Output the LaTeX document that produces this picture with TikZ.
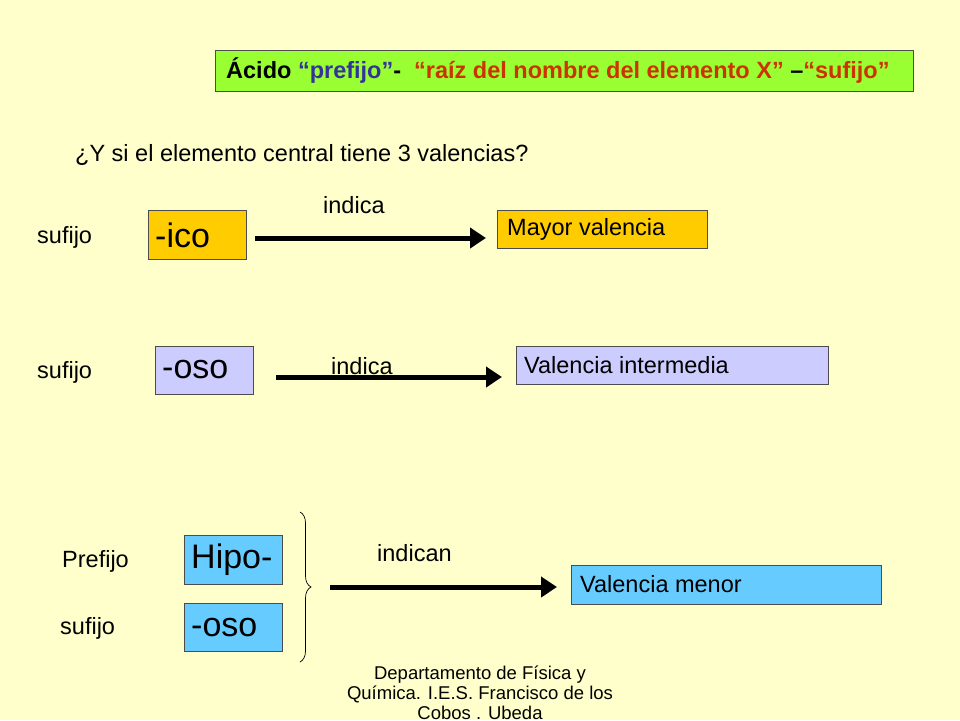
\documentclass[tikz,border=0pt]{standalone}
\usepackage{fontspec}
\setmainfont{Liberation Sans}
\usetikzlibrary{arrows.meta,decorations.pathreplacing}
\definecolor{bg}{RGB}{255,255,204}
\definecolor{tgreen}{RGB}{153,255,51}
\definecolor{orng}{RGB}{255,204,0}
\definecolor{lav}{RGB}{204,204,255}
\definecolor{lblue}{RGB}{102,204,255}
\definecolor{tblue}{RGB}{51,51,153}
\definecolor{tred}{RGB}{204,51,0}
\tikzset{
 box/.style={draw=black!70,line width=0.8pt,anchor=north west,inner sep=0pt,text depth=0pt},
 lbl/.style={font=\fontsize{23.5}{26}\selectfont,anchor=west,inner sep=0pt},
 bigl/.style={font=\fontsize{34}{36}\selectfont},
 arr/.style={line width=5pt,-{Triangle[length=16pt,width=20pt]}}
}
\begin{document}
\begin{tikzpicture}[x=1pt,y=-1pt]
\fill[bg] (0,0) rectangle (960,720);
\useasboundingbox (0,0) rectangle (960,720);
\node[box,fill=tgreen,minimum width=698pt,minimum height=41pt] (title) at (215,50) {};
\node[lbl,font=\fontsize{23.5}{26}\selectfont\bfseries] (tt) at (226,71) {Ácido \textcolor{tblue}{“prefijo”}- \ \textcolor{tred}{“raíz del nombre del elemento X”} –\textcolor{tred}{“sufijo”}};
\node[lbl] (q) at (75,155) {¿Y si el elemento central tiene 3 valencias?};
% row 1
\node[box,fill=orng,minimum width=98pt,minimum height=49pt] (ico) at (148,210) {};
\node[lbl,bigl] (icot) at (155,235) {-ico};
\node[box,fill=orng,minimum width=210pt,minimum height=38pt] (mayor) at (497,210) {};
\node[lbl] (mayort) at (507,229) {Mayor valencia};
\node[lbl] (s1) at (37,237) {sufijo};
\node[lbl] (ind1) at (323,205) {indica};
\coordinate (a1s) at (255,238); \coordinate (a1e) at (486,238);
\draw[arr] (a1s) -- (a1e);
% row 2
\node[box,fill=lav,minimum width=98pt,minimum height=48pt] (oso) at (155,346) {};
\node[lbl,bigl] (osot) at (162,370) {-oso};
\node[box,fill=lav,minimum width=312pt,minimum height=38pt] (inter) at (516,346) {};
\node[lbl] (intert) at (524,365) {Valencia intermedia};
\node[lbl] (s2) at (37,372) {sufijo};
\node[lbl] (ind2) at (331,366) {indica};
\coordinate (a2s) at (276,377); \coordinate (a2e) at (502,377);
\draw[arr] (a2s) -- (a2e);
% row 3
\node[box,fill=lblue,minimum width=98pt,minimum height=49pt] (hipo) at (184,535) {};
\node[lbl,bigl] (hipot) at (191,560) {Hipo-};
\node[box,fill=lblue,minimum width=98pt,minimum height=48pt] (oso2) at (184,603) {};
\node[lbl,bigl] (oso2t) at (191,628) {-oso};
\node[lbl] (p3) at (62,561) {Prefijo};
\node[lbl] (s3) at (60,628) {sufijo};
\coordinate (b1) at (300,512); \coordinate (b2) at (300,662);
\draw[decorate,decoration={brace,amplitude=11pt},line width=0.7pt] (b1) -- (b2);
\node[lbl] (ind3) at (377,553) {indican};
\node[box,fill=lblue,minimum width=310pt,minimum height=39pt] (menor) at (571,565) {};
\node[lbl] (menort) at (580,584) {Valencia menor};
\coordinate (a3s) at (330,587); \coordinate (a3e) at (557,587);
\draw[arr] (a3s) -- (a3e);
% footer
\node[align=center,font=\fontsize{18.5}{20}\selectfont,anchor=north] (foot) at (480,662) {Departamento de Física y\\Química. I.E.S. Francisco de los\\Cobos . Ubeda};
\end{tikzpicture}
\end{document}
